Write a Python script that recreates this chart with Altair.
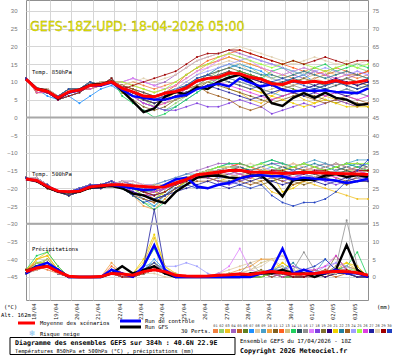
import altair as alt
import pandas as pd

# ---------------- data ----------------
HOURS = [0, 12, 24, 36, 48, 60, 72, 84, 96, 108, 120, 132, 144, 156, 168, 180, 192,
         204, 216, 228, 240, 252, 264, 276, 288, 300, 312, 324, 336, 348, 360, 372, 384]
DAY_TICKS = [3, 27, 51, 75, 99, 123, 147, 171, 195, 219, 243, 267, 291, 315, 339, 363]
DAY_LABELS = ["18/04", "19/04", "20/04", "21/04", "22/04", "23/04", "24/04", "25/04",
              "26/04", "27/04", "28/04", "29/04", "30/04", "01/05", "02/05", "03/05"]
Y_TICKS = [30, 25, 20, 15, 10, 5, 0, -5, -10, -15, -20, -25, -30, -35, -40, -45]

MEMBERS = ["%02d" % i for i in range(1, 31)]
MEMBER_COLORS = ["#f08040", "#90d070", "#f0c020", "#a060c0", "#c06020", "#608020", "#1e90ff",
                 "#e0c8a0", "#4aa0c8", "#f0a040", "#806020", "#ff6020", "#d0c080", "#20d060",
                 "#305060", "#909090", "#e080ff", "#8040e0", "#807030", "#300080", "#f0d000",
                 "#2080a0", "#a06020", "#a0a0ff", "#a0ff40", "#e040e0", "#2020a0", "#e0d0b0",
                 "#a00000", "#2040c0"]

# Temperature 850 hPa (deg C)
T850_MEAN = [10.8, 8.0, 7.3, 5.5, 7.2, 7.7, 9.0, 9.2, 10.0, 8.2, 7.2, 6.0, 5.8, 6.8, 7.3, 8.3, 10.3,
             11.0, 11.3, 12.5, 12.3, 11.3, 10.8, 9.5, 9.3, 10.3, 9.8, 10.2, 9.7, 10.4, 9.6, 10.0, 10.5]
T850_CTRL = [10.8, 8.0, 7.2, 5.5, 7.0, 7.6, 9.0, 9.0, 9.8, 7.8, 6.0, 5.5, 5.0, 5.0, 5.8, 6.3, 8.0,
             8.8, 9.5, 8.7, 11.0, 9.8, 8.7, 9.3, 7.7, 7.3, 7.6, 7.5, 7.6, 7.2, 7.0, 6.8, 8.2]
T850_GFS = [10.8, 8.2, 7.5, 5.3, 7.0, 7.8, 9.2, 9.4, 10.2, 7.5, 4.5, 1.5, 2.5, 5.8, 7.2, 6.5, 8.5,
            8.0, 10.0, 11.3, 12.0, 10.3, 8.0, 4.0, 3.2, 5.5, 6.8, 5.5, 7.0, 5.5, 5.0, 3.5, 3.8]
T850_PERTS = [
    [11, 8, 7, 5, 7, 8, 9, 9, 10, 9, 10, 9, 8, 9, 10, 12, 14, 15, 16, 17, 16, 15, 14, 13, 12, 11, 12, 13, 12, 11, 12, 11, 12],
    [11, 8, 8, 6, 7, 8, 9, 10, 10, 8, 7, 5, 3, 2, 4, 6, 9, 11, 13, 14, 15, 14, 12, 11, 12, 13, 14, 13, 12, 14, 15, 14, 13],
    [11, 8, 7, 5, 6, 7, 9, 9, 11, 7, 6, 4, 3, 4, 5, 7, 8, 9, 10, 8, 7, 5, 4, 6, 8, 7, 5, 4, 6, 5, 4, 3, 4],
    [11, 8, 7, 6, 8, 8, 10, 9, 10, 10, 11, 10, 9, 10, 12, 14, 16, 17, 18, 19, 18, 17, 16, 15, 14, 12, 11, 13, 12, 10, 11, 12, 13],
    [11, 7, 7, 5, 7, 8, 8, 9, 10, 8, 7, 6, 5, 6, 7, 8, 10, 11, 12, 13, 12, 11, 10, 9, 8, 9, 10, 11, 12, 13, 12, 12, 13],
    [11, 8, 7, 5, 7, 8, 9, 9, 10, 8, 6, 5, 4, 5, 6, 7, 9, 10, 11, 12, 13, 12, 11, 10, 9, 8, 7, 8, 9, 10, 9, 8, 9],
    [11, 8, 6, 5, 6, 4, 6, 8, 9, 7, 6, 5, 6, 7, 8, 9, 10, 12, 13, 14, 15, 14, 13, 11, 10, 11, 12, 10, 9, 10, 11, 10, 11],
    [11, 8, 8, 6, 7, 8, 9, 10, 10, 9, 8, 7, 6, 7, 8, 10, 12, 14, 15, 16, 15, 13, 12, 11, 10, 9, 10, 11, 10, 9, 10, 9, 8],
    [11, 8, 7, 5, 6, 7, 9, 9, 11, 8, 6, 4, 3, 2, 3, 5, 7, 9, 10, 11, 10, 9, 8, 7, 6, 7, 8, 9, 8, 7, 8, 7, 6],
    [11, 8, 7, 6, 8, 8, 10, 9, 10, 10, 9, 8, 7, 8, 9, 11, 13, 15, 16, 17, 16, 15, 14, 12, 11, 12, 13, 14, 13, 12, 13, 12, 11],
    [11, 7, 7, 5, 7, 8, 8, 9, 10, 7, 5, 3, 2, 3, 5, 6, 8, 10, 9, 8, 7, 6, 5, 4, 5, 6, 7, 6, 5, 4, 5, 4, 3],
    [11, 8, 7, 5, 7, 8, 9, 9, 10, 9, 8, 7, 6, 7, 9, 12, 14, 16, 17, 18, 19, 18, 17, 16, 15, 14, 13, 12, 13, 14, 13, 12, 13],
    [11, 8, 8, 6, 7, 8, 9, 10, 10, 8, 7, 6, 5, 6, 7, 8, 9, 10, 11, 10, 9, 8, 7, 8, 9, 10, 11, 12, 11, 10, 11, 10, 9],
    [11, 8, 7, 5, 6, 7, 9, 9, 11, 6, 4, 2, 0, 1, 3, 5, 7, 9, 11, 12, 13, 12, 11, 13, 14, 13, 12, 14, 15, 13, 14, 15, 14],
    [11, 8, 7, 6, 8, 8, 10, 9, 10, 9, 8, 7, 6, 7, 8, 9, 10, 11, 12, 13, 12, 11, 10, 9, 10, 11, 10, 9, 8, 9, 10, 9, 10],
    [11, 7, 7, 5, 7, 8, 8, 9, 10, 8, 7, 6, 5, 4, 5, 7, 9, 11, 12, 11, 10, 9, 8, 7, 8, 9, 8, 7, 6, 7, 8, 7, 6],
    [11, 8, 7, 5, 7, 8, 9, 9, 10, 10, 11, 10, 9, 8, 9, 11, 13, 14, 16, 18, 17, 16, 14, 13, 12, 13, 14, 13, 12, 11, 12, 13, 12],
    [11, 8, 8, 6, 7, 8, 9, 10, 10, 8, 6, 4, 3, 2, 2, 3, 4, 3, 3, 4, 5, 4, 3, 1, 2, 3, 4, 3, 4, 5, 4, 3, 4],
    [11, 8, 7, 5, 6, 7, 9, 9, 11, 7, 6, 5, 4, 5, 6, 8, 10, 12, 13, 14, 13, 12, 11, 10, 9, 10, 11, 10, 9, 10, 11, 10, 9],
    [11, 8, 7, 6, 8, 8, 10, 9, 10, 9, 7, 5, 4, 5, 6, 7, 8, 9, 10, 11, 12, 11, 10, 9, 8, 7, 8, 9, 10, 11, 10, 9, 10],
    [11, 7, 7, 5, 7, 8, 8, 9, 10, 7, 6, 5, 4, 5, 7, 9, 11, 12, 11, 10, 9, 8, 7, 6, 5, 4, 3, 4, 5, 4, 3, 3, 3],
    [11, 8, 7, 5, 7, 8, 9, 9, 10, 8, 7, 6, 5, 6, 7, 9, 11, 12, 14, 15, 14, 13, 12, 12, 11, 12, 13, 12, 11, 12, 13, 12, 11],
    [11, 8, 8, 6, 7, 8, 9, 10, 10, 9, 8, 6, 5, 6, 7, 8, 9, 7, 6, 5, 3, 2, 3, 5, 6, 7, 6, 5, 4, 5, 6, 5, 4],
    [11, 8, 7, 5, 6, 7, 9, 9, 11, 8, 7, 6, 5, 6, 8, 10, 12, 13, 14, 15, 16, 17, 16, 15, 14, 13, 12, 13, 14, 13, 12, 13, 12],
    [11, 8, 7, 6, 8, 8, 10, 9, 10, 10, 9, 8, 7, 8, 10, 12, 14, 15, 17, 18, 17, 16, 15, 14, 15, 16, 15, 14, 13, 14, 15, 14, 15],
    [11, 7, 7, 5, 7, 8, 8, 9, 10, 8, 6, 4, 3, 4, 6, 8, 10, 11, 10, 9, 8, 7, 6, 5, 6, 7, 8, 7, 6, 7, 6, 5, 6],
    [11, 8, 7, 5, 7, 8, 9, 9, 10, 8, 7, 5, 4, 5, 6, 7, 8, 9, 8, 7, 6, 5, 6, 7, 8, 7, 6, 7, 8, 7, 6, 7, 8],
    [11, 8, 8, 6, 7, 8, 9, 10, 10, 9, 10, 11, 10, 11, 12, 14, 16, 17, 18, 19, 20, 19, 18, 17, 16, 15, 16, 17, 16, 15, 16, 15, 16],
    [11, 8, 7, 5, 6, 7, 9, 9, 11, 8, 9, 10, 11, 12, 13, 15, 17, 18, 18, 19, 19, 18, 17, 16, 15, 16, 15, 16, 17, 16, 15, 16, 16],
    [11, 8, 7, 6, 8, 8, 10, 9, 10, 8, 7, 6, 5, 6, 7, 9, 11, 12, 11, 10, 9, 8, 9, 10, 11, 10, 9, 8, 9, 10, 9, 8, 9],
]

# Temperature 500 hPa (deg C)
T500_MEAN = [-17.4, -17.8, -19.5, -20.8, -21.0, -20.8, -19.6, -19.3, -19.0, -19.0, -19.3, -19.5, -19.7, -19.6,
             -18.5, -17.5, -16.2, -15.8, -15.4, -15.0, -14.9, -15.4, -15.5, -15.6, -15.8, -15.7, -15.5, -15.6,
             -15.7, -15.8, -15.9, -16.0, -16.1]
T500_CTRL = [-17.4, -17.8, -19.5, -20.8, -21.0, -20.6, -19.5, -19.2, -19.0, -19.5, -20.0, -20.5, -20.3, -19.0,
             -17.5, -17.0, -19.5, -20.0, -19.0, -18.5, -17.2, -16.5, -16.3, -16.6, -16.6, -17.5, -17.0, -17.3,
             -17.5, -17.8, -18.5, -18.0, -17.3]
T500_GFS = [-17.4, -18.0, -19.7, -21.0, -21.2, -21.0, -19.8, -19.5, -19.4, -20.0, -21.5, -22.0, -23.3, -24.2,
            -21.0, -19.0, -17.0, -16.5, -16.4, -17.0, -17.2, -16.5, -16.3, -19.0, -22.3, -17.6, -17.5, -17.6,
            -16.4, -16.0, -16.8, -16.3, -16.8]
T500_PERTS = [
    [-17, -18, -20, -21, -21, -21, -20, -19, -19, -19, -20, -21, -22, -20, -18, -17, -16, -15, -14, -14, -13, -14, -15, -15, -14, -13, -14, -15, -14, -13, -14, -15, -14],
    [-17, -18, -19, -21, -21, -20, -19, -19, -18, -20, -22, -24, -25, -23, -20, -18, -17, -16, -15, -15, -14, -15, -16, -15, -14, -14, -15, -14, -13, -14, -15, -14, -14],
    [-17, -18, -20, -21, -22, -21, -20, -20, -19, -19, -20, -22, -21, -19, -18, -17, -17, -17, -18, -17, -16, -17, -18, -21, -22, -19, -18, -19, -20, -21, -22, -23, -23],
    [-17, -17, -19, -21, -21, -20, -19, -19, -19, -18, -18, -19, -19, -18, -17, -16, -15, -14, -13, -13, -14, -15, -14, -13, -13, -14, -15, -14, -13, -14, -15, -14, -13],
    [-17, -18, -20, -21, -21, -21, -20, -19, -19, -19, -21, -23, -24, -22, -20, -18, -17, -17, -16, -16, -17, -16, -15, -16, -17, -16, -15, -16, -17, -16, -15, -16, -16],
    [-17, -18, -19, -21, -21, -20, -19, -19, -18, -19, -20, -21, -20, -19, -18, -17, -16, -15, -15, -14, -14, -15, -16, -16, -15, -14, -15, -16, -15, -14, -15, -16, -15],
    [-17, -18, -20, -21, -22, -21, -20, -20, -19, -20, -21, -23, -25, -22, -19, -17, -16, -16, -15, -14, -15, -16, -15, -14, -15, -16, -17, -16, -15, -14, -13, -14, -13],
    [-17, -17, -19, -21, -21, -20, -19, -19, -19, -18, -19, -20, -21, -20, -19, -18, -17, -16, -15, -16, -17, -18, -17, -16, -17, -18, -17, -16, -15, -16, -17, -16, -15],
    [-17, -18, -20, -21, -21, -21, -20, -19, -19, -19, -20, -20, -19, -18, -17, -16, -16, -15, -14, -13, -13, -14, -13, -12, -13, -14, -13, -12, -13, -14, -13, -12, -12],
    [-17, -18, -19, -21, -21, -20, -19, -19, -18, -20, -22, -25, -26, -23, -20, -18, -17, -16, -16, -15, -15, -16, -17, -16, -15, -14, -15, -14, -15, -16, -15, -14, -15],
    [-17, -18, -20, -21, -22, -21, -20, -20, -19, -19, -19, -20, -21, -20, -19, -18, -17, -17, -18, -18, -17, -18, -19, -18, -17, -18, -19, -18, -17, -18, -19, -18, -18],
    [-17, -17, -19, -21, -21, -20, -19, -19, -19, -18, -19, -21, -23, -21, -19, -17, -16, -15, -15, -14, -13, -14, -15, -16, -15, -14, -13, -14, -15, -14, -13, -13, -14],
    [-17, -18, -20, -21, -21, -21, -20, -19, -19, -19, -20, -20, -19, -19, -18, -17, -16, -16, -15, -15, -16, -16, -15, -15, -16, -16, -15, -15, -16, -16, -15, -15, -16],
    [-17, -18, -19, -21, -21, -20, -19, -19, -18, -20, -22, -24, -26, -24, -21, -18, -16, -15, -14, -13, -13, -14, -13, -12, -13, -14, -13, -14, -15, -14, -13, -14, -15],
    [-17, -18, -20, -21, -22, -21, -20, -20, -19, -19, -20, -21, -21, -20, -18, -17, -16, -16, -17, -16, -15, -16, -17, -18, -17, -16, -15, -16, -17, -16, -15, -16, -17],
    [-17, -17, -19, -21, -21, -20, -19, -19, -19, -19, -20, -22, -23, -21, -19, -18, -17, -16, -16, -17, -18, -17, -16, -15, -16, -17, -18, -17, -16, -15, -16, -17, -16],
    [-17, -18, -20, -21, -21, -21, -20, -19, -19, -18, -18, -19, -20, -19, -18, -17, -16, -15, -15, -16, -16, -15, -14, -15, -16, -15, -14, -15, -16, -15, -14, -15, -16],
    [-17, -18, -19, -21, -21, -20, -19, -19, -18, -19, -21, -22, -22, -20, -18, -17, -17, -17, -18, -19, -18, -17, -16, -17, -18, -17, -16, -17, -18, -19, -18, -17, -18],
    [-17, -18, -20, -21, -22, -21, -20, -20, -19, -20, -21, -22, -23, -22, -20, -18, -17, -16, -15, -15, -16, -17, -16, -15, -14, -15, -16, -17, -16, -15, -14, -15, -15],
    [-17, -17, -19, -21, -21, -20, -19, -19, -19, -18, -19, -20, -21, -20, -19, -18, -17, -16, -15, -15, -14, -15, -16, -15, -14, -15, -16, -15, -14, -13, -14, -15, -14],
    [-17, -18, -20, -21, -21, -21, -20, -19, -19, -19, -19, -20, -21, -22, -20, -18, -16, -15, -16, -17, -16, -15, -14, -16, -21, -20, -18, -17, -16, -15, -16, -17, -16],
    [-17, -18, -19, -21, -21, -20, -19, -19, -18, -19, -20, -21, -22, -21, -19, -17, -16, -15, -15, -14, -14, -15, -14, -13, -14, -15, -14, -13, -14, -15, -14, -13, -14],
    [-17, -18, -20, -21, -22, -21, -20, -20, -19, -20, -22, -23, -24, -22, -20, -19, -18, -18, -17, -17, -18, -19, -18, -17, -18, -19, -18, -17, -16, -17, -18, -17, -17],
    [-17, -17, -19, -21, -21, -20, -19, -19, -19, -18, -19, -20, -21, -20, -18, -17, -16, -16, -17, -17, -16, -15, -16, -17, -16, -15, -16, -17, -16, -15, -16, -17, -17],
    [-17, -18, -20, -21, -21, -21, -20, -19, -19, -19, -20, -22, -23, -21, -19, -17, -16, -15, -14, -14, -15, -14, -13, -14, -15, -14, -13, -14, -15, -14, -13, -13, -13],
    [-17, -18, -19, -21, -21, -20, -19, -19, -18, -19, -21, -22, -21, -20, -19, -18, -17, -16, -16, -15, -16, -17, -16, -15, -16, -17, -16, -15, -16, -17, -16, -15, -16],
    [-17, -18, -20, -21, -22, -21, -20, -20, -19, -20, -21, -22, -23, -22, -21, -20, -19, -18, -19, -20, -19, -18, -17, -18, -19, -18, -17, -18, -19, -18, -17, -18, -18],
    [-17, -17, -19, -21, -21, -20, -19, -19, -19, -18, -18, -19, -20, -19, -18, -17, -16, -15, -15, -14, -14, -13, -14, -15, -14, -13, -14, -15, -14, -13, -14, -15, -14],
    [-17, -18, -20, -21, -21, -21, -20, -19, -19, -19, -20, -21, -22, -21, -19, -18, -17, -16, -16, -15, -15, -16, -16, -15, -15, -16, -16, -15, -15, -16, -16, -15, -15],
    [-17, -18, -19, -21, -21, -20, -19, -19, -18, -20, -22, -24, -23, -22, -20, -19, -20, -20, -19, -18, -19, -20, -19, -22, -24, -25, -24, -24, -23, -21, -18, -15, -12],
]

# Precipitation (mm)
PR_MEAN = [1.5, 2.5, 3.0, 1.5, 0.2, 0, 0, 0.1, 1.0, 0.8, 0.5, 1.5, 2.0, 1.5, 0.5, 0.3, 0.2,
           0.3, 0.5, 0.6, 0.8, 0.7, 1.2, 1.5, 1.2, 0.8, 0.8, 1.0, 1.3, 1.6, 1.5, 1.2, 0.5]
PR_CTRL = [1, 3, 4, 2, 0, 0, 0, 0, 2, 1, 0, 3, 9, 2, 0, 0, 0, 0, 0, 0, 0, 0, 1, 2, 8, 1, 2, 1, 1, 2, 1, 1, 0]
PR_GFS = [1, 3, 3, 2, 0, 0, 0, 0, 1, 3, 1, 2, 3, 1, 0, 0, 0, 0, 0, 0, 0, 1, 1, 1, 2, 1, 1, 0, 1, 2, 9, 2, 0]
PR_PERTS = [
    [1, 3, 2, 1, 0, 0, 0, 0, 1, 0, 0, 2, 3, 1, 0, 0, 0, 0, 0, 0, 0, 0, 1, 2, 1, 0, 0, 1, 2, 1, 2, 1, 0],
    [2, 4, 5, 2, 0, 0, 0, 0, 2, 1, 0, 1, 2, 1, 0, 0, 0, 0, 0, 0, 1, 1, 0, 1, 1, 0, 1, 0, 1, 2, 1, 1, 0],
    [1, 5, 7, 3, 0, 0, 0, 0, 1, 1, 1, 4, 11, 3, 0, 0, 0, 0, 0, 1, 0, 0, 1, 1, 4, 2, 1, 0, 1, 3, 4, 2, 0],
    [2, 3, 3, 1, 0, 0, 0, 0, 2, 1, 0, 2, 3, 2, 1, 0, 0, 0, 0, 0, 1, 0, 1, 2, 1, 1, 2, 1, 0, 1, 2, 1, 0],
    [1, 4, 4, 2, 0, 0, 0, 0, 1, 0, 0, 1, 2, 1, 0, 0, 0, 0, 0, 0, 0, 1, 0, 1, 0, 0, 1, 2, 1, 0, 1, 2, 0],
    [2, 3, 5, 2, 0, 0, 0, 0, 1, 0, 0, 2, 4, 2, 0, 0, 0, 0, 0, 0, 0, 0, 0, 1, 0, 0, 0, 1, 0, 1, 2, 1, 0],
    [1, 4, 3, 2, 0, 0, 0, 0, 2, 1, 0, 2, 5, 2, 0, 0, 0, 0, 1, 0, 0, 0, 1, 0, 1, 2, 0, 0, 1, 2, 1, 0, 0],
    [1, 3, 3, 1, 0, 0, 0, 0, 1, 0, 0, 1, 1, 0, 0, 0, 0, 0, 1, 2, 3, 4, 5, 5, 6, 3, 1, 0, 1, 2, 1, 1, 0],
    [2, 3, 4, 2, 0, 0, 0, 0, 2, 1, 0, 3, 4, 2, 0, 0, 0, 0, 0, 0, 0, 1, 1, 2, 3, 1, 0, 1, 5, 2, 1, 1, 0],
    [1, 5, 6, 2, 0, 0, 0, 0, 4, 1, 0, 2, 4, 1, 0, 0, 0, 0, 0, 1, 2, 3, 5, 5, 2, 1, 0, 1, 2, 1, 2, 1, 0],
    [1, 2, 3, 1, 0, 0, 0, 0, 1, 0, 0, 1, 2, 1, 0, 0, 0, 0, 0, 0, 0, 0, 1, 1, 1, 0, 0, 1, 1, 2, 3, 2, 0],
    [2, 4, 4, 2, 0, 0, 0, 0, 3, 1, 0, 2, 3, 1, 0, 0, 0, 0, 0, 0, 0, 0, 0, 1, 1, 0, 0, 0, 1, 1, 1, 1, 0],
    [1, 3, 5, 2, 0, 0, 0, 0, 1, 0, 0, 1, 3, 1, 0, 0, 0, 0, 0, 1, 1, 2, 4, 5, 3, 1, 0, 1, 1, 2, 3, 2, 0],
    [2, 6, 7, 3, 0, 0, 0, 0, 1, 0, 0, 3, 8, 2, 0, 0, 0, 0, 0, 0, 0, 0, 1, 1, 0, 0, 0, 1, 1, 2, 3, 7, 0],
    [1, 3, 3, 1, 0, 0, 0, 0, 1, 0, 0, 1, 2, 1, 0, 0, 0, 0, 0, 0, 0, 0, 0, 1, 1, 1, 0, 1, 1, 1, 1, 0, 0],
    [1, 3, 4, 2, 0, 0, 0, 0, 1, 0, 0, 2, 3, 1, 0, 0, 0, 0, 0, 1, 1, 4, 1, 0, 1, 2, 7, 2, 1, 3, 16, 3, 0],
    [1, 2, 3, 1, 0, 0, 0, 0, 1, 0, 1, 1, 2, 1, 0, 0, 0, 0, 1, 3, 8, 2, 1, 0, 1, 1, 0, 1, 2, 4, 2, 1, 0],
    [1, 3, 4, 2, 0, 0, 0, 0, 1, 0, 0, 2, 3, 1, 0, 0, 0, 0, 0, 0, 1, 0, 1, 1, 2, 3, 2, 1, 1, 1, 1, 1, 0],
    [2, 3, 3, 2, 0, 0, 0, 0, 1, 1, 0, 1, 2, 1, 0, 0, 0, 0, 0, 0, 0, 1, 2, 1, 0, 1, 2, 1, 1, 6, 2, 1, 0],
    [1, 3, 4, 1, 0, 0, 0, 0, 1, 0, 0, 1, 2, 1, 0, 0, 0, 0, 0, 0, 0, 0, 1, 1, 1, 0, 1, 1, 0, 1, 1, 0, 0],
    [2, 5, 6, 2, 0, 0, 0, 0, 1, 0, 1, 5, 12, 3, 1, 0, 0, 0, 0, 0, 0, 0, 1, 2, 4, 2, 1, 0, 1, 2, 4, 3, 0],
    [1, 3, 4, 2, 0, 0, 0, 0, 2, 0, 0, 1, 3, 1, 0, 0, 0, 0, 0, 0, 0, 0, 0, 1, 2, 4, 1, 0, 1, 2, 1, 1, 0],
    [1, 2, 3, 1, 0, 0, 0, 0, 1, 0, 0, 1, 2, 1, 0, 0, 0, 0, 0, 0, 0, 1, 1, 0, 1, 1, 0, 1, 2, 1, 1, 0, 0],
    [1, 3, 3, 2, 0, 0, 0, 0, 1, 0, 0, 1, 2, 3, 3, 4, 3, 1, 0, 0, 0, 0, 1, 1, 1, 2, 1, 1, 3, 4, 3, 1, 0],
    [1, 4, 4, 2, 0, 0, 0, 0, 1, 0, 0, 1, 3, 1, 0, 0, 0, 0, 0, 0, 0, 0, 0, 1, 1, 0, 1, 0, 1, 1, 2, 2, 0],
    [1, 3, 4, 2, 0, 0, 0, 0, 1, 0, 0, 2, 3, 1, 0, 0, 0, 0, 0, 0, 1, 0, 1, 1, 0, 1, 2, 2, 3, 6, 2, 1, 0],
    [1, 3, 3, 1, 0, 0, 0, 0, 2, 0, 0, 3, 19, 2, 0, 0, 0, 0, 0, 0, 0, 0, 1, 1, 1, 0, 0, 1, 1, 1, 1, 0, 0],
    [1, 2, 3, 1, 0, 0, 0, 0, 1, 0, 0, 1, 2, 1, 0, 0, 0, 0, 0, 0, 1, 2, 3, 5, 6, 2, 1, 0, 1, 1, 2, 1, 0],
    [2, 3, 4, 2, 0, 0, 0, 0, 1, 0, 0, 1, 3, 1, 0, 0, 0, 0, 0, 0, 0, 0, 1, 1, 1, 0, 0, 1, 1, 2, 2, 1, 0],
    [1, 3, 4, 2, 0, 0, 0, 0, 2, 1, 0, 2, 4, 1, 0, 0, 0, 0, 0, 0, 0, 0, 1, 2, 2, 1, 2, 3, 5, 2, 1, 1, 0],
]
PRECIP_BASE = -45  # 0 mm sits on the -45 line of the left scale (right scale = left + 45)

# ---------------- tables ----------------
pert_rows, main_rows = [], []
for panel, perts in (("t850", T850_PERTS), ("t500", T500_PERTS), ("pr", PR_PERTS)):
    off = PRECIP_BASE if panel == "pr" else 0
    for m, vals in zip(MEMBERS, perts):
        for h, v in zip(HOURS, vals):
            pert_rows.append({"h": h, "v": v + off, "m": m, "k": panel + m})
for panel, mean, ctrl, gfs in (("t850", T850_MEAN, T850_CTRL, T850_GFS),
                               ("t500", T500_MEAN, T500_CTRL, T500_GFS),
                               ("pr", PR_MEAN, PR_CTRL, PR_GFS)):
    off = PRECIP_BASE if panel == "pr" else 0
    for name, vals in (("gfs", gfs), ("ctrl", ctrl), ("mean", mean)):
        for h, v in zip(HOURS, vals):
            main_rows.append({"h": h, "v": v + off, "s": name, "k": panel + name})
pert_df = pd.DataFrame(pert_rows)
main_df = pd.DataFrame(main_rows)

# ---------------- scales / axes ----------------
W, H = 342, 300
xs = alt.Scale(domain=[0, 384], nice=False, zero=False)
ys = alt.Scale(domain=[-51.5, 33.1], nice=False, zero=False)
MONO = "DejaVu Sans Mono"
GRID = "#d6d6d6"

x_axis = alt.Axis(values=DAY_TICKS, labelExpr=f"{DAY_LABELS}[round((datum.value-3)/24)]",
                  labelAngle=270, labelFont=MONO, labelFontSize=5.5, labelColor="#222",
                  labelOffset=5, labelPadding=3, ticks=False, domain=False, grid=True,
                  gridColor=GRID, title=None)
y_left = alt.Axis(values=Y_TICKS, labelFontSize=6, labelColor="#777", labelPadding=9,
                  ticks=False, domain=False, grid=True, gridColor=GRID, title=None)
y_right = alt.Axis(values=Y_TICKS, orient="right", labelExpr="datum.value + 45", labelFontSize=6,
                   labelColor="#777", labelPadding=4, ticks=False, domain=False, grid=False,
                   title=None)

X = alt.X("h:Q", scale=xs, axis=x_axis)
cscale = alt.Scale(domain=MEMBERS, range=MEMBER_COLORS)

pert_lines = alt.Chart(pert_df).mark_line(strokeWidth=0.8).encode(
    x=X, y=alt.Y("v:Q", scale=ys, axis=y_left),
    color=alt.Color("m:N", scale=cscale, legend=None), detail="k:N")
pert_pts = alt.Chart(pert_df).mark_point(filled=True, size=4, opacity=1).encode(
    x=X, y=alt.Y("v:Q", scale=ys, axis=None),
    color=alt.Color("m:N", scale=cscale, legend=None), detail="k:N")

sep = alt.Chart(pd.DataFrame({"v": [0, -30]})).mark_rule(color="#a8a8a8", strokeWidth=2).encode(
    y=alt.Y("v:Q", scale=ys, axis=y_right))


def main_line(name, color, width):
    return alt.Chart(main_df[main_df.s == name]).mark_line(color=color, strokeWidth=width).encode(
        x=X, y=alt.Y("v:Q", scale=ys, axis=None), detail="k:N")


gfs_l = main_line("gfs", "#000000", 2.4)
ctrl_l = main_line("ctrl", "#0000ff", 2.4)
mean_l = main_line("mean", "#ff0000", 3)

ONE = pd.DataFrame({"a": [0]})


def txt(t, x, y, size, bold=False, color="#000", font=MONO, align="left", **kw):
    return alt.Chart(ONE).mark_text(text=t, fontSize=size, font=font, color=color, align=align,
                                    baseline="middle", fontWeight="bold" if bold else "normal",
                                    **kw).encode(x=alt.value(x), y=alt.value(y))


def hline(x1, x2, y, color, width):
    return alt.Chart(ONE).mark_rule(color=color, strokeWidth=width).encode(
        x=alt.value(x1), x2=alt.value(x2), y=alt.value(y))


title = txt("GEFS-18Z-UPD: 18-04-2026 05:00", 4, 27, 14, color="#f4f400",
            font="Liberation Sans Narrow, DejaVu Sans Condensed, sans-serif",
            stroke="#8a8a10", strokeWidth=0.3)

deco = [
    title,
    txt("Temp. 850hPa", 6, 72, 5.5),
    txt("Temp. 500hPa", 6, 174, 5.5),
    txt("Précipitations", 6, 249, 5.5),
    txt("(°C)", -22, 307, 5.5),
    txt("Alt. 162m", -25, 315, 5.5),
    txt("(mm)", 351, 307, 5.5),
    hline(-8, 9, 323, "#ff0000", 3),
    txt("Moyenne des scénarios", 14, 323, 5.5),
    hline(94, 115, 321, "#0000ff", 3),
    txt("Run de contrôle", 119, 321, 5.5),
    hline(94, 115, 327, "#000000", 3),
    txt("Run GFS", 119, 327, 5.5),
    txt("30 Perts.", 155, 331, 5.5),
    txt("❄", 6, 334, 8, color="#7ec0ee", font="DejaVu Sans", align="center"),
    txt("Risque neige", 14, 334, 5.5),
    alt.Chart(ONE).mark_rect(fill="white", stroke="#000", strokeWidth=1).encode(
        x=alt.value(-16), x2=alt.value(209), y=alt.value(337.5), y2=alt.value(354.5)),
    txt("Diagramme des ensembles GEFS sur 384h : 40.6N 22.9E", -11, 343, 6.6, bold=True),
    txt("Températures 850hPa et 500hPa (°C) , précipitations (mm)", -11, 350.5, 5.3),
    txt("Ensemble GEFS du 17/04/2026 - 18Z", 214, 341, 5.6),
    txt("Copyright 2026 Meteociel.fr", 214, 350.5, 6.6, bold=True),
]

# perturbation legend strip
leg_df = pd.DataFrame({"m": MEMBERS, "px": [187 + 6 * i for i in range(30)]})
leg_df["px2"] = leg_df["px"] + 5
leg_df["pc"] = leg_df["px"] + 2.5
leg_sw = alt.Chart(leg_df).mark_rect().encode(
    x=alt.X("px:Q", scale=None), x2="px2:Q", y=alt.value(329), y2=alt.value(333),
    color=alt.Color("m:N", scale=cscale, legend=None))
leg_tx = alt.Chart(leg_df).mark_text(font=MONO, fontSize=3.6, color="#333", baseline="middle").encode(
    x=alt.X("pc:Q", scale=None), y=alt.value(326), text="m:N")

chart = alt.layer(
    pert_lines, pert_pts, sep, gfs_l, ctrl_l, mean_l, leg_sw, leg_tx, *deco
).resolve_scale(y="independent", color="shared").properties(
    width=W, height=H, autosize="none",
    padding={"left": 26, "top": 0, "right": 27, "bottom": 55},
    background="white",
).configure_view(stroke="#909090", strokeWidth=1)

chart.save("out.html", embed_options={"renderer": "svg", "actions": False})
